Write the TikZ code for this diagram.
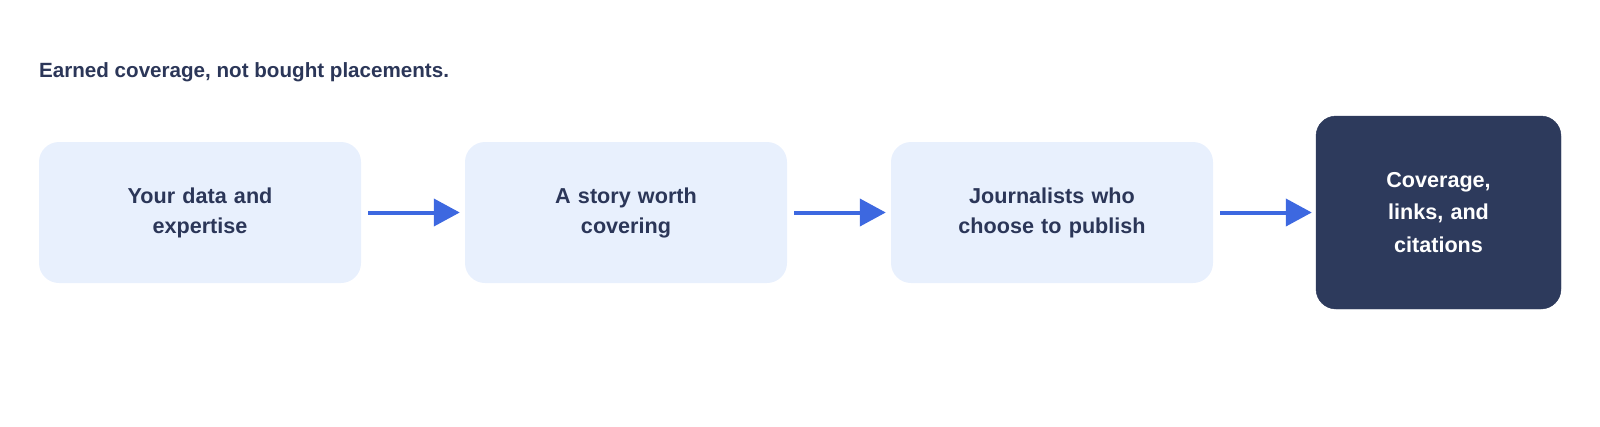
\documentclass[tikz,border=0pt]{standalone}
\usepackage{fontspec}
\setmainfont{Liberation Sans}
\usetikzlibrary{arrows.meta}
\definecolor{navy}{HTML}{2B3658}
\definecolor{lightbox}{HTML}{E8F0FD}
\definecolor{darkbox}{HTML}{2D3A5C}
\definecolor{arrowblue}{HTML}{3D68E0}
\tikzset{
  stepbox/.style={fill=lightbox, rounded corners=20pt, minimum width=322pt, minimum height=141pt,
    inner sep=0pt, text=navy, align=center, text width=300pt,
    font=\fontsize{21.6pt}{30pt}\selectfont\bfseries},
  finalbox/.style={fill=darkbox, draw=darkbox, rounded corners=20pt, minimum width=245pt, minimum height=193pt,
    inner sep=0pt, text=white, align=center, text width=230pt,
    font=\fontsize{21.6pt}{32.5pt}\selectfont\bfseries},
  flow/.style={draw=arrowblue, line width=4pt, -{Triangle[length=26pt,width=27pt]}},
}
\begin{document}
\begin{tikzpicture}[x=1pt,y=-1pt]
\useasboundingbox (0,0) rectangle (1600,426);
\node[anchor=base west, text=navy, inner sep=0pt, font=\fontsize{20.6pt}{24pt}\selectfont\bfseries] (title) at (39,77) {Earned coverage, not bought placements.};
\node[stepbox] (b1) at (200,212.5) {Your data and\\expertise};
\node[stepbox] (b2) at (626,212.5) {A story worth\\covering};
\node[stepbox] (b3) at (1052,212.5) {Journalists who\\choose to publish};
\node[finalbox] (b4) at (1438.5,212.5) {Coverage,\\links, and\\citations};
\draw[flow] ([xshift=7pt]b1.east) -- ([xshift=-5pt]b2.west);
\draw[flow] ([xshift=7pt]b2.east) -- ([xshift=-5pt]b3.west);
\draw[flow] ([xshift=7pt]b3.east) -- ([xshift=-4pt]b4.west);
\end{tikzpicture}
\end{document}
